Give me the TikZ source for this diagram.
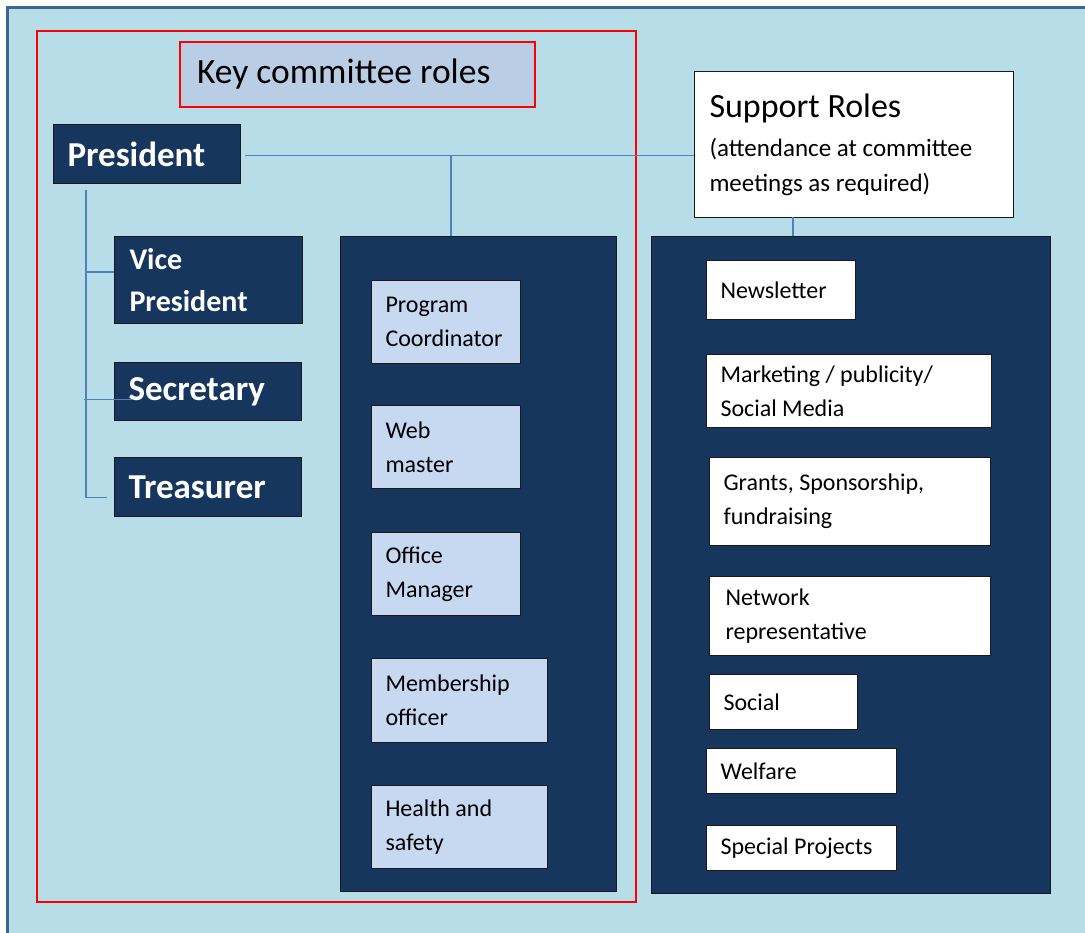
\documentclass[tikz,border=0pt]{standalone}
\usepackage{fontspec}
\setmainfont{Carlito}
\usepackage{tikz}
\usetikzlibrary{positioning,calc}

\definecolor{bgblue}{HTML}{B7DDE8}
\definecolor{frameblue}{HTML}{3F6593}
\definecolor{navy}{HTML}{17365D}
\definecolor{rolefill}{HTML}{C6D9F1}
\definecolor{titlefill}{HTML}{B9CDE5}
\definecolor{linkblue}{HTML}{4F81BD}
\definecolor{boxline}{HTML}{1A1A1A}

\tikzset{
    card/.style={draw=boxline, line width=1pt, anchor=north west, align=flush left, inner xsep=14pt, inner ysep=0pt},
    officebox/.style={card, fill=navy, text=white, font=\bfseries\fontsize{35}{40}\selectfont},
    rolebox/.style={card, fill=rolefill, font=\fontsize{24}{34}\selectfont},
    helpbox/.style={card, fill=white, font=\fontsize{24}{34}\selectfont},
    panel/.style={draw=boxline, line width=1pt, fill=navy, anchor=north west, inner sep=0pt},
    link/.style={draw=linkblue, line width=1.2pt}
}

\begin{document}
\begin{tikzpicture}[x=1pt, y=-1pt]
    % Hintergrund
        \useasboundingbox (0,0) rectangle (1085,933);
        \fill[white] (0,0) rectangle (1085,933);
        \draw[frameblue, line width=3pt, fill=bgblue] (7.5,7.5) rectangle (1100,950);

    % Key committee
        \draw[red, line width=2pt] (37,31) rectangle (636,902);
        \node[card, draw=red, line width=2pt, fill=titlefill, minimum width=355pt, minimum height=65pt, text width=321pt, inner xsep=17pt, font=\fontsize{35.5}{40}\selectfont] (title) at (179,41) {Key committee roles};

        \node[officebox, minimum width=187pt, minimum height=59pt, text width=159pt] (pres) at (53,124) {President};
        \node[officebox, minimum width=188pt, minimum height=87pt, text width=158pt, inner xsep=15pt, font=\bfseries\fontsize{30}{42}\selectfont] (vice) at (114,236) {Vice\\President};
        \node[officebox, minimum width=187pt, minimum height=58pt, text width=159pt] (sec) at (114,362) {Secretary};
        \node[officebox, minimum width=187pt, minimum height=59pt, text width=159pt] (treas) at (114,457) {Treasurer};

    % linke Spalte
        \node[panel, minimum width=276pt, minimum height=655pt] (leftpanel) at (340,236) {};
        \node[rolebox, minimum width=149pt, minimum height=83pt, text width=121pt] (prog) at (371,280) {Program\\Coordinator};
        \node[rolebox, minimum width=149pt, minimum height=83pt, text width=121pt] (web) at (371,405) {Web\\master};
        \node[rolebox, minimum width=149pt, minimum height=83pt, text width=121pt] (office) at (371,532) {Office\\Manager};
        \node[rolebox, minimum width=176pt, minimum height=84pt, text width=148pt] (member) at (371,658) {Membership\\officer};
        \node[rolebox, minimum width=176pt, minimum height=83pt, text width=148pt] (health) at (371,785) {Health and\\safety};

    % Support Roles
        \node[card, fill=white, minimum width=319pt, minimum height=146pt, text width=289pt, inner xsep=15pt, font=\fontsize{25}{35}\selectfont] (support) at (694,71)
            {{\fontsize{34}{40}\selectfont Support Roles}\\[4pt]
             (attendance at committee\\meetings as required)};

        \node[panel, minimum width=399pt, minimum height=657pt] (rightpanel) at (651,236) {};
        \node[helpbox, minimum width=149pt, minimum height=59pt, text width=121pt] (news) at (706,260) {Newsletter};
        \node[helpbox, minimum width=285pt, minimum height=73pt, text width=257pt] (market) at (706,354) {Marketing / publicity/\\Social Media};
        \node[helpbox, minimum width=281pt, minimum height=88pt, text width=253pt] (grants) at (709,457) {Grants, Sponsorship,\\fundraising};
        \node[helpbox, minimum width=281pt, minimum height=79pt, text width=249pt, inner xsep=16pt] (network) at (709,576) {Network\\representative};
        \node[helpbox, minimum width=148pt, minimum height=55pt, text width=120pt] (social) at (709,674) {Social};
        \node[helpbox, minimum width=190pt, minimum height=45pt, text width=162pt] (welfare) at (706,748) {Welfare};
        \node[helpbox, minimum width=190pt, minimum height=45pt, text width=162pt] (special) at (706,825) {Special Projects};

    % Verbindungen
        \coordinate (trunk) at (86,190);
        \coordinate (keyjoin) at (451,155);
        \coordinate (helpjoin) at (793,217);
        \draw[link, shorten <=4pt] ([yshift=-1.5pt]pres.east) -- ([yshift=-1.5pt]pres.east -| support.west);
        \draw[link] (keyjoin) -- (keyjoin |- leftpanel.north);
        \draw[link] (helpjoin) -- (helpjoin |- rightpanel.north);
        \draw[link] (trunk) |- ([xshift=-7pt, yshift=-10.5pt]treas.west);
        \draw[link] ([yshift=8pt]trunk |- vice.west) -- ([yshift=8pt]vice.west);
        \draw[link] ([xshift=-2pt, yshift=-8pt]trunk |- sec.west) -- ([xshift=19pt, yshift=-8pt]sec.west);
\end{tikzpicture}
\end{document}
